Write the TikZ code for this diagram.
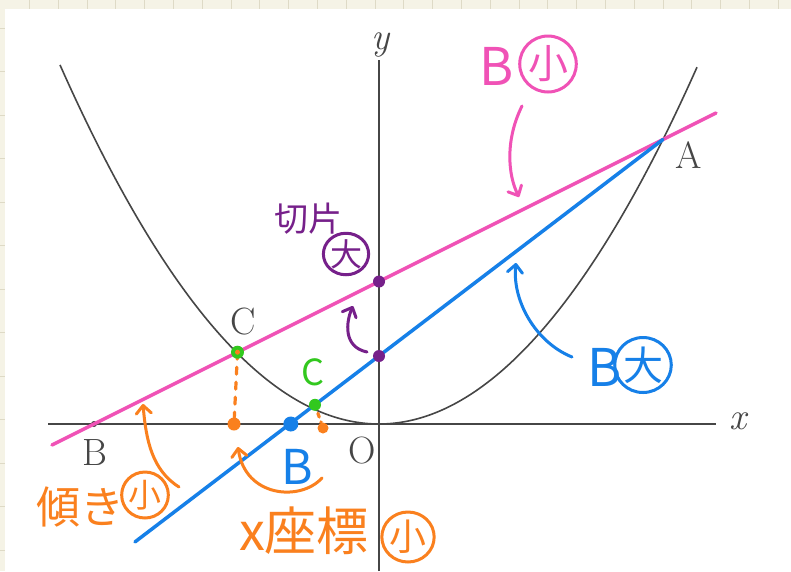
\documentclass[tikz,border=0pt]{standalone}
\usepackage{fontspec}
\newfontfamily\cjk{Noto Sans CJK JP}
\usetikzlibrary{arrows.meta,shapes.geometric}
\definecolor{pk}{RGB}{240,82,182}
\definecolor{bl}{RGB}{22,128,232}
\definecolor{og}{RGB}{250,128,30}
\definecolor{pu}{RGB}{118,32,138}
\definecolor{gr}{RGB}{50,200,30}
\definecolor{ax}{RGB}{70,70,70}
\definecolor{paper}{RGB}{245,243,230}
\definecolor{paperline}{RGB}{222,218,198}
\begin{document}
\begin{tikzpicture}[x=1pt,y=-1pt,
  hand/.style={font=\cjk\fontsize{#1}{#1}\selectfont, inner sep=0pt},
  lab/.style={font=\fontsize{38}{38}\selectfont, inner sep=0pt, text=ax},
  circ/.style={ellipse, draw=#1, text=#1, line width=3pt, inner sep=0pt},
  harrow/.style={draw=#1, line width=3pt, line cap=round, line join=round, -{Straight Barb[length=8pt,width=15pt,round]}},
  dot/.style={circle, fill=#1, inner sep=0pt, minimum size=12pt},
  axisline/.style={draw=ax, line width=1.6pt},
  thick line/.style={draw=#1, line width=3.5pt, line cap=round},
  dotted orange/.style={draw=og, line width=3.2pt, line cap=round, dash pattern=on 7pt off 8pt},
]
\useasboundingbox (0,0) rectangle (791,571);
\fill[white] (0,0) rectangle (791,571);
% paper margins
\fill[paper] (0,0) rectangle (791,9);
\fill[paper] (0,0) rectangle (5,571);
\foreach \i in {0,...,26} {\draw[paperline, line width=0.8pt] ({29.3+28.8*\i},0) -- ({29.3+28.8*\i},9);}
\foreach \i in {0,...,12} {\draw[paperline, line width=0.8pt] (0,{28+43.5*\i}) -- (5,{28+43.5*\i});}

% axes
\coordinate (xl) at (48,424);
\coordinate (xr) at (716,424);
\coordinate (yb) at (379,571);
\coordinate (yt) at (379,60);
\draw[axisline] (xl) -- (xr);
\draw[axisline] (yb) -- (yt);
\node[lab, font=\fontsize{38}{38}\selectfont\itshape] (xlab) at (738,421) {x};
\node[lab, font=\fontsize{38}{38}\selectfont\itshape] (ylab) at (381,45) {y};
\node[lab] (O) at (362,451) {O};

% parabola
\draw[ax, line width=1.6pt] plot[domain=-319:318, samples=140, smooth] ({379+\x},{424-(0.05941*\x)*(0.05941*\x)});

% key points
\coordinate (A) at (662.9,139.5);
\coordinate (Cp) at (237.5,352.2);
\coordinate (Bp) at (94,424);
\coordinate (Pup) at (379,281.5);
\coordinate (Pdn) at (379,356);
\coordinate (Bb) at (290.8,424);
\coordinate (cc) at (315,404.8);
\coordinate (pinkS) at (52,445);
\coordinate (pinkE) at (716,113);
\coordinate (blueS) at (135,541.9);

\node[lab] (Alab) at (689,155) {A};
\node[lab] (Clab) at (243,322) {C};
\node[lab] (Blab) at (95,453) {B};
\fill[ax] (Bp) circle (3pt);

% lines
\draw[thick line=pk] (pinkS) -- (pinkE);
\draw[thick line=bl] (blueS) -- (A);

% orange dotted drops
\node[dot=og, minimum width=13pt, minimum height=12pt] (oC) at (234,424) {};
\node[dot=og, minimum size=11pt] (oc) at (323,428) {};
\draw[dotted orange] (Cp) -- (oC);
\draw[dotted orange, dash pattern=on 4pt off 5pt] (cc) -- (oc);

% dots
\node[dot=gr, minimum size=13pt] (gC) at (Cp) {};
\fill[og] (Cp) circle (2.5pt);
\node[dot=gr, minimum size=12pt] (gc) at (cc) {};
\node[dot=pu] (pu1) at (Pup) {};
\node[dot=pu] (pu2) at (Pdn) {};
\node[dot=bl, minimum size=15pt] (bB) at (Bb) {};

% green c
\node[hand=36, text=gr] (gclab) at (313,372) {C};

% pink label
\node[hand=52, text=pk] (pB) at (497,66) {B};
\node[circ=pk, hand=40, minimum width=54pt, minimum height=56pt] (pS) at (548,64) {小};
\coordinate (pa1) at (522,106);
\coordinate (pa2) at (519,197);
\draw[harrow=pk] (pa1) .. controls (505,140) and (508,175) .. (pa2);

% purple label
\node[hand=34, text=pu] (puT) at (308,219) {切片};
\node[circ=pu, hand=32, minimum width=41pt, minimum height=41pt] (puC) at (346,254) {大};
\coordinate (qa1) at (367,352);
\coordinate (qa2) at (353,306);
\draw[harrow=pu] (qa1) .. controls (343,347) and (346,322) .. (qa2);

% blue label
\node[hand=52, text=bl] (bB2) at (605,367) {B};
\node[circ=bl, hand=40, minimum width=42pt, minimum height=55pt] (bD) at (643,365) {大};
\coordinate (ba1) at (572,357);
\coordinate (ba2) at (516,263);
\draw[harrow=bl] (ba1) .. controls (535,342) and (512,300) .. (ba2);

% blue B near axis
\node[hand=48, text=bl] (bBx) at (297,467) {B};

% orange left label
\node[hand=44, text=og] (oT) at (80,507) {傾き};
\node[circ=og, hand=33, minimum width=44pt, minimum height=46pt] (oS) at (145,495) {小};
\coordinate (oa1) at (179,487);
\coordinate (oa2) at (143,404);
\draw[harrow=og] (oa1) .. controls (152,470) and (146,440) .. (oa2);

% orange bottom label
\node[hand=52, text=og] (xT) at (304,531) {x座標};
\node[circ=og, hand=37, minimum width=47pt, minimum height=50pt] (xS) at (408,537) {小};
\coordinate (xa1) at (322,478);
\coordinate (xa2) at (238,447);
\draw[harrow=og] (xa1) .. controls (300,502) and (245,497) .. (xa2);
\end{tikzpicture}
\end{document}
